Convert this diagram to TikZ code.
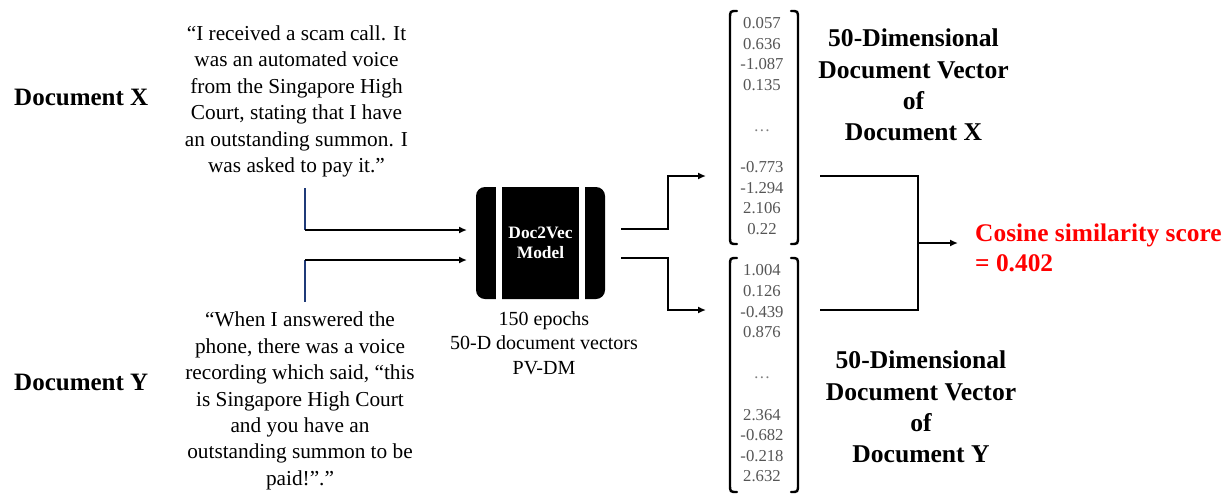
\documentclass[tikz,border=0pt]{standalone}
\usepackage{fontspec}
\setmainfont{Liberation Serif}
\usetikzlibrary{arrows.meta}
\definecolor{numgrey}{HTML}{555555}
\definecolor{navyline}{HTML}{1F3A78}
\definecolor{scorered}{HTML}{FF0000}
\tikzset{
  quote/.style={align=center, inner sep=0pt, font=\fontsize{21.3}{26.4}\selectfont},
  doclabel/.style={anchor=west, inner sep=0pt, font=\fontsize{25}{28}\selectfont\bfseries},
  veclabel/.style={align=center, inner sep=0pt, font=\fontsize{25.6}{31.2}\selectfont\bfseries},
  vecnums/.style={align=center, inner sep=0pt, text=numgrey, font=\fontsize{16.7}{20.6}\selectfont},
  conn/.style={line width=1.6pt, draw=black},
  arr/.style={conn, -{Latex[length=8pt,width=7pt]}},
  brk/.style={line width=2.4pt, line cap=round},
}
\begin{document}
\begin{tikzpicture}[x=1pt, y=-1pt]
\useasboundingbox (0,0) rectangle (1231,496);

% document labels
\node[doclabel] (labx) at (14,97) {Document X};
\node[doclabel] (laby) at (14,382) {Document Y};

% document texts
\node[quote] (qx) at (296.5,101.5) {“I received a scam call. It\\was an automated voice\\from the Singapore High\\Court, stating that I have\\an outstanding summon. I\\was asked to pay it.”};
\node[quote] (qy) at (300,401) {“When I answered the\\phone, there was a voice\\recording which said, “this\\is Singapore High Court\\and you have an\\outstanding summon to be\\paid!”.”};

% Doc2Vec model block
\node[fill=black, rounded corners=9pt, minimum width=129pt, minimum height=112pt, inner sep=0pt] (model) at (540.5,243) {};
\fill[white] (496,186) rectangle (502,300);
\fill[white] (579,186) rectangle (585,300);
\node[text=white, align=center, font=\fontsize{17.4}{20}\selectfont\bfseries] (mtext) at (540.5,243) {Doc2Vec\\Model};
\node[align=center, inner sep=0pt, font=\fontsize{20}{24.5}\selectfont] (params) at (544,343) {150 epochs\\50-D document vectors\\PV-DM};

% inputs
\coordinate (xtop) at (305,188);
\coordinate (xin) at (305,230);
\coordinate (ytop) at (305,260);
\coordinate (ybot) at (305,302);
\coordinate (mxin) at (467,230);
\coordinate (myin) at (467,260);
\draw[line width=1.6pt, navyline] (xtop) -- (xin);
\draw[line width=1.6pt, navyline] (ytop) -- (ybot);
\draw[arr] (xin) -- (mxin);
\draw[arr] (ytop) -- (myin);

% vectors
\node[vecnums] (vx) at (762,126) {0.057\\0.636\\-1.087\\0.135\\\\{\color{gray}…}\\\\-0.773\\-1.294\\2.106\\0.22};
\node[vecnums] (vy) at (762,373.5) {1.004\\0.126\\-0.439\\0.876\\\\{\color{gray}…}\\\\2.364\\-0.682\\-0.218\\2.632};

% brackets
\draw[brk] (737,11) .. controls (730,11) .. (730,19) -- (730,236) .. controls (730,244) .. (737,244);
\draw[brk] (791,11) .. controls (798,11) .. (798,19) -- (798,236) .. controls (798,244) .. (791,244);
\draw[brk] (737,258) .. controls (730,258) .. (730,266) -- (730,484) .. controls (730,492) .. (737,492);
\draw[brk] (791,258) .. controls (798,258) .. (798,266) -- (798,484) .. controls (798,492) .. (791,492);

% model outputs
\coordinate (mxout) at (621,229);
\coordinate (myout) at (621,258);
\coordinate (vxin) at (706,176);
\coordinate (vyin) at (706,310);
\draw[arr] (mxout) -- (668,229) |- (vxin);
\draw[arr] (myout) -- (668,258) |- (vyin);

% vector captions
\node[veclabel] (capx) at (913.5,85) {50-Dimensional\\Document Vector\\of\\Document X};
\node[veclabel] (capy) at (921,407) {50-Dimensional\\Document Vector\\of\\Document Y};

% similarity
\coordinate (vxout) at (820,176);
\coordinate (vyout) at (820,310);
\coordinate (join) at (918,243);
\node[anchor=west, align=left, inner sep=0pt, text=scorered, font=\fontsize{25.4}{30}\selectfont\bfseries] (score) at (975,248) {Cosine similarity score\\= 0.402};
\draw[conn] (vxout) -| (join);
\draw[conn] (vyout) -| (join);
\draw[arr] (join) -- (958,243);
\end{tikzpicture}
\end{document}
